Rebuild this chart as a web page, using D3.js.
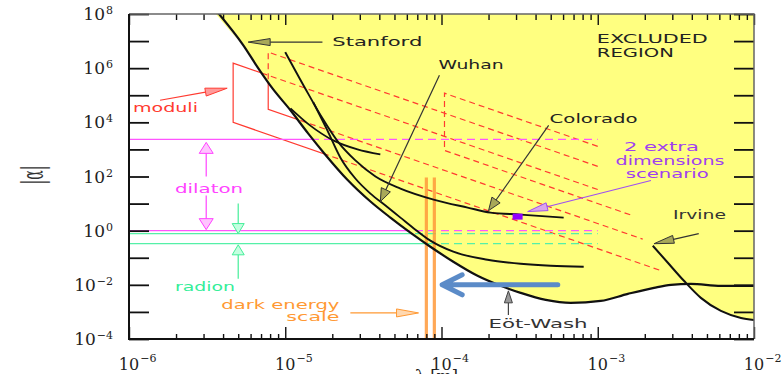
<!DOCTYPE html>
<html>
<head>
<meta charset="utf-8">
<title>Yukawa limits on |alpha| versus lambda</title>
<script src="https://cdn.jsdelivr.net/npm/d3@7"></script>
<style>
  html, body { margin: 0; padding: 0; background: #fff; }
  svg { display: block; }
  text { font-family: "DejaVu Sans", sans-serif; }
  text.num { font-family: "DejaVu Serif", serif; }
</style>
</head>
<body>
<svg id="chart" width="783" height="374"></svg>
<script>
// ---------- data: [lambda (m), |alpha|] ----------
// outer limit (Stanford at short range, Eot-Wash at long range)
const boundary = [
  [3.72e-6, 1.09e8], [5.38e-6, 7.11e6], [6.71e-6, 1.0e6], [8.26e-6, 1.82e5],
  [1.08e-5, 2.78e4], [1.40e-5, 3.92e3], [1.80e-5, 653], [2.49e-5, 77.4],
  [3.51e-5, 11.9], [4.71e-5, 3.03], [6.32e-5, 0.843], [8.49e-5, 0.255],
  [1.19e-4, 0.0711], [1.70e-4, 0.0215], [2.39e-4, 9.2e-3], [3.21e-4, 5.06e-3],
  [4.65e-4, 2.78e-3], [6.71e-4, 2.15e-3], [1.045e-3, 2.55e-3], [1.56e-3, 4.64e-3],
  [2.29e-3, 7.74e-3], [2.94e-3, 1.0e-2], [3.94e-3, 1.09e-2], [6.14e-3, 9.2e-3],
  [1.0e-2, 9.2e-3]
];
// edge of the shaded region where it runs just left of the Stanford line
const shadeEdgeTop = [[3.55e-6, 1.09e8], [4.9e-6, 1.2e7], [6.2e-6, 1.9e6]];
const irvine = [
  [2.25e-3, 0.278], [2.81e-3, 0.0653], [3.56e-3, 0.0141], [4.57e-3, 3.3e-3],
  [6.14e-3, 1.09e-3], [8.26e-3, 6.0e-4], [1.0e-2, 5.06e-4]
];
const wuhan = [
  [1.51e-5, 5.5e4], [1.86e-5, 5.06e3], [2.25e-5, 506], [2.81e-5, 84.3],
  [3.51e-5, 23.4], [4.38e-5, 8.43], [5.46e-5, 3.03], [6.81e-5, 1.09],
  [8.49e-5, 0.427], [1.19e-4, 0.167], [1.97e-4, 0.0843], [3.21e-4, 0.060],
  [5.0e-4, 0.0506], [8.13e-4, 0.0464]
];
const colorado = [
  [1.0e-5, 3.92e6], [1.34e-5, 1.82e5], [1.73e-5, 1.41e4], [2.19e-5, 1.82e3],
  [2.81e-5, 392], [3.78e-5, 100], [5.46e-5, 36], [8.9e-5, 14.1],
  [1.47e-4, 7.11], [2.06e-4, 4.64], [3.21e-4, 3.92], [6.05e-4, 3.03]
];
const stanford2003 = [
  [1.08e-5, 3.3e4], [1.44e-5, 7.74e3], [2.03e-5, 2.15e3], [2.9e-5, 1.0e3], [4.06e-5, 653]
];
// moduli bands: upper edge end, upper-left corner, lower-left corner, lower edge end
const moduliBand1 = [[1.0e-3, 33], [4.64e-6, 1.53e6], [4.64e-6, 1.0e4], [2.54e-3, 0.0334]];
const moduliBand2 = [[1.0e-3, 237], [7.78e-6, 3.92e6], [7.78e-6, 3.03e4], [1.94e-3, 0.487]];
const moduliBand3 = [[1.0e-3, 1299], [1.045e-4, 1.19e5], [1.045e-4, 918], [1.63e-3, 3.78]];
const dilatonLevels = [2.34e3, 1.0];
const radionLevels = [0.78, 0.33];
const levelSpan = [1.0e-6, 1.0e-3];
const darkEnergyLambdas = [8.0e-5, 9.0e-5];
const darkEnergyTop = 92;
const extraDimPoint = [3.07e-4, 3.3];
const xTickExponents = [-6, -5, -4, -3, -2];
const yTickExponents = [8, 6, 4, 2, 0, -2, -4];

// ---------- scales ----------
const svg = d3.select("#chart");
const x = d3.scaleLog().domain([1e-6, 1e-2]).range([129, 754]);
const y = d3.scaleLog().domain([1e-4, 1e8]).range([339, 14]);
const [xL, xR] = x.range();
const [yB, yT] = y.range();

const smooth = d3.line().x(d => x(d[0])).y(d => y(d[1])).curve(d3.curveMonotoneX);
const straight = d3.line().x(d => x(d[0])).y(d => y(d[1]));

// lower envelope of the outer limit and the Irvine limit
function logInterp(curve, l) {
  for (let i = 0; i < curve.length - 1; i++) {
    const [l0, a0] = curve[i], [l1, a1] = curve[i + 1];
    if (l >= l0 && l <= l1) {
      const t = (Math.log(l) - Math.log(l0)) / (Math.log(l1) - Math.log(l0));
      return Math.exp(Math.log(a0) + t * (Math.log(a1) - Math.log(a0)));
    }
  }
  return Infinity;
}
const gap = l => Math.log(logInterp(irvine, l)) - Math.log(logInterp(boundary, l));
const lams = [...new Set([...boundary, ...irvine].map(d => d[0]))].sort((a, b) => a - b);
const envelope = [];
lams.forEach((l, i) => {
  envelope.push([l, Math.min(logInterp(boundary, l), logInterp(irvine, l))]);
  const l2 = lams[i + 1];
  if (l2 !== undefined) {
    const g1 = gap(l), g2 = gap(l2);
    if (isFinite(g1) && isFinite(g2) && g1 * g2 < 0) {
      let lo = Math.log(l), hi = Math.log(l2);
      for (let k = 0; k < 40; k++) {
        const mid = (lo + hi) / 2;
        if (gap(Math.exp(mid)) * g1 > 0) lo = mid; else hi = mid;
      }
      const lc = Math.exp((lo + hi) / 2);
      envelope.push([lc, logInterp(boundary, lc)]);
    }
  }
});
const envPath = smooth(envelope);

// ---------- clip regions ----------
const defs = svg.append("defs");
defs.append("clipPath").attr("id", "plotArea")
  .append("rect").attr("x", xL).attr("y", yT).attr("width", xR - xL).attr("height", yB - yT);
defs.append("clipPath").attr("id", "excluded")
  .append("path").attr("d", envPath + `L${xR},${yT}Z`);
defs.append("clipPath").attr("id", "allowed")
  .append("path").attr("d", envPath + `L${xR},${yB}L${xL},${yB}L${xL},${yT}Z`);

const plot = svg.append("g").attr("clip-path", "url(#plotArea)");

// excluded region
const yellow = "#ffff80";
plot.append("path").attr("d", envPath + `L${xR},${yT}Z`).attr("fill", yellow);
plot.append("path")
  .attr("d", straight(shadeEdgeTop) + `L${x(boundary[2][0])},${y(boundary[2][1])}L${x(boundary[0][0])},${y(boundary[0][1])}Z`)
  .attr("fill", yellow);

// theory lines: solid where allowed, dashed inside the excluded region
function theoryLine(pts, color, width, dash) {
  plot.append("g").attr("clip-path", "url(#allowed)")
    .append("path").attr("d", straight(pts)).attr("fill", "none")
    .attr("stroke", color).attr("stroke-width", width);
  plot.append("g").attr("clip-path", "url(#excluded)")
    .append("path").attr("d", straight(pts)).attr("fill", "none")
    .attr("stroke", color).attr("stroke-width", width).attr("stroke-dasharray", dash);
}
[moduliBand1, moduliBand2, moduliBand3].forEach(b => theoryLine(b, "#ff3a30", 1.2, "6,4"));
dilatonLevels.forEach(a => theoryLine(levelSpan.map(l => [l, a]), "#ff55ff", 1.3, "8,5"));
radionLevels.forEach(a => theoryLine(levelSpan.map(l => [l, a]), "#55f0a8", 1.3, "8,5"));

// dark-energy length scale
darkEnergyLambdas.forEach(l => {
  plot.append("line")
    .attr("x1", x(l)).attr("x2", x(l)).attr("y1", y(darkEnergyTop)).attr("y2", yB)
    .attr("stroke", "#ff9a3a").attr("stroke-width", 3.2).attr("opacity", 0.85);
});

// experimental limits
[[boundary, 2.2], [irvine, 2], [wuhan, 1.9], [colorado, 1.9], [stanford2003, 1.8]].forEach(([c, w]) => {
  plot.append("path").attr("d", smooth(c)).attr("fill", "none")
    .attr("stroke", "#111").attr("stroke-width", w).attr("stroke-linejoin", "round");
});

// 2 extra dimensions point
plot.append("rect")
  .attr("x", x(extraDimPoint[0]) - 5).attr("y", y(extraDimPoint[1]) - 3)
  .attr("width", 10).attr("height", 6).attr("fill", "#9000ff");

// ---------- arrows ----------
const khaki = "#a8a858";
const arrows = [
  { from: [1.73e-5, 9.18e6], to: [5.79e-6, 9.18e6], len: 22, hw: 3.5, stroke: "#333", fill: khaki },
  { from: [9.7e-5, 5.5e5], to: [4.06e-5, 11.9], len: 13, hw: 5, stroke: "#333", fill: khaki },
  { from: [4.85e-4, 7.74e3], to: [2.0e-4, 5.5], len: 13, hw: 5, stroke: "#333", fill: khaki },
  { from: [4.43e-3, 0.774], to: [2.29e-3, 0.33], len: 20, hw: 4, stroke: "#333", fill: khaki },
  { from: [2.68e-4, 7.74e-4], to: [2.68e-4, 6.0e-3], len: 12, hw: 4, stroke: "#444", fill: "#999" },
  { from: [2.19e-3, 71], to: [3.56e-4, 5.06], len: 20, hw: 4, stroke: "#a050f0", fill: "#d9a6ec" },
  { from: [1.58e-6, 6.53e4], to: [4.25e-6, 1.82e5], len: 22, hw: 4, stroke: "#ff3a30", fill: "#ff9a9a" },
  { from: [3.12e-6, 100], to: [3.12e-6, 1.82e3], len: 11, hw: 7, stroke: "#ff44ff", fill: "#ffc4ff" },
  { from: [3.12e-6, 19.8], to: [3.12e-6, 1.09], len: 11, hw: 7, stroke: "#ff44ff", fill: "#ffc4ff" },
  { from: [5.0e-6, 10], to: [5.0e-6, 0.78], len: 10, hw: 6, stroke: "#44ee99", fill: "#c4ffe0" },
  { from: [5.0e-6, 0.0167], to: [5.0e-6, 0.3], len: 10, hw: 6, stroke: "#44ee99", fill: "#c4ffe0" },
  { from: [2.61e-5, 9.18e-4], to: [7.13e-5, 9.18e-4], len: 22, hw: 4, stroke: "#ff9933", fill: "#ffd8b0" }
];
arrows.forEach(a => {
  const fx = x(a.from[0]), fy = y(a.from[1]), tx = x(a.to[0]), ty = y(a.to[1]);
  const ang = Math.atan2(ty - fy, tx - fx);
  const bx = tx - a.len * Math.cos(ang), by = ty - a.len * Math.sin(ang);
  const nx = -Math.sin(ang) * a.hw, ny = Math.cos(ang) * a.hw;
  svg.append("line").attr("x1", fx).attr("y1", fy).attr("x2", bx).attr("y2", by)
    .attr("stroke", a.stroke).attr("stroke-width", 1.2);
  svg.append("path")
    .attr("d", `M${tx},${ty}L${bx + nx},${by + ny}L${bx - nx},${by - ny}Z`)
    .attr("fill", a.fill).attr("stroke", a.stroke).attr("stroke-width", 1);
});

// highlight arrow pointing toward shorter range
const blueArrow = { from: [5.55e-4, 1.0e-2], to: [1.01e-4, 1.0e-2] };
{
  const fx = x(blueArrow.from[0]), tx = x(blueArrow.to[0]), yy = y(blueArrow.from[1]);
  svg.append("path")
    .attr("d", `M${fx},${yy}L${tx + 2},${yy}M${tx + 20},${yy - 10}L${tx},${yy}L${tx + 20},${yy + 10}`)
    .attr("fill", "none").attr("stroke", "#5b8bc8").attr("stroke-width", 5)
    .attr("stroke-linecap", "round").attr("stroke-linejoin", "round");
}

// ---------- labels ----------
const labels = [
  { text: "Stanford", at: [2.0e-5, 6.53e6], w: 90, color: "#222" },
  { text: "Wuhan", at: [9.57e-5, 9.18e5], w: 65, color: "#222" },
  { text: "EXCLUDED", at: [9.87e-4, 8.43e6], w: 111, color: "#222" },
  { text: "REGION", at: [9.87e-4, 2.55e6], w: 77, color: "#222" },
  { text: "Colorado", at: [4.92e-4, 9.18e3], w: 88, color: "#222" },
  { text: "2 extra", at: [1.47e-3, 843], w: 75, color: "#a040f0", size: 12 },
  { text: "dimensions", at: [1.30e-3, 255], w: 109, color: "#a040f0", size: 12 },
  { text: "scenario", at: [1.51e-3, 91.8], w: 83, color: "#a040f0", size: 12 },
  { text: "Irvine", at: [3.03e-3, 2.78], w: 53, color: "#333" },
  { text: "Eöt-Wash", at: [2.0e-4, 2.55e-4], w: 99, color: "#333" },
  { text: "moduli", at: [1.06e-6, 2.34e4], w: 65, color: "#ff3a30" },
  { text: "dilaton", at: [1.97e-6, 25.5], w: 68, color: "#ff44ff" },
  { text: "radion", at: [1.97e-6, 6.0e-3], w: 60, color: "#33ee99" },
  { text: "dark energy", at: [2.22e-5, 1.29e-3], w: 118, color: "#ff9933", anchor: "end" },
  { text: "scale", at: [2.22e-5, 4.64e-4], w: 53, color: "#ff9933", anchor: "end" }
];
labels.forEach(l => {
  svg.append("text")
    .attr("x", x(l.at[0])).attr("y", y(l.at[1]))
    .attr("text-anchor", l.anchor || "start")
    .attr("textLength", l.w).attr("lengthAdjust", "spacingAndGlyphs")
    .style("font-size", (l.size || 13) + "px")
    .attr("fill", l.color).text(l.text);
});

// ---------- axes ----------
const majorX = xTickExponents.map(e => Math.pow(10, e));
const minorX = [];
xTickExponents.slice(0, -1).forEach(e => { for (let m = 2; m <= 9; m++) minorX.push(m * Math.pow(10, e)); });
const decadesY = d3.range(-4, 9).map(e => Math.pow(10, e));

function drawAxis(axis, tx, ty) {
  const g = svg.append("g").attr("transform", `translate(${tx},${ty})`).call(axis);
  g.select(".domain").remove();
  g.selectAll("line").attr("stroke", "#111").attr("stroke-width", 1.4);
  return g;
}
drawAxis(d3.axisBottom(x).tickValues(minorX).tickSize(-5).tickSizeOuter(0).tickFormat(""), 0, yB);
drawAxis(d3.axisBottom(x).tickValues(majorX).tickSize(-12).tickSizeOuter(0).tickFormat(""), 0, yB);
drawAxis(d3.axisTop(x).tickValues(minorX).tickSize(-6).tickSizeOuter(0).tickFormat(""), 0, yT);
drawAxis(d3.axisTop(x).tickValues(majorX).tickSize(-11).tickSizeOuter(0).tickFormat(""), 0, yT);
drawAxis(d3.axisLeft(y).tickValues(decadesY).tickSize(-20).tickSizeOuter(0).tickFormat(""), xL, 0)
  .selectAll("line").attr("stroke-width", 1.8);
drawAxis(d3.axisRight(y).tickValues(decadesY).tickSize(-20).tickSizeOuter(0).tickFormat(""), xR, 0)
  .selectAll("line").attr("stroke-width", 1.8);

// frame
svg.append("path").attr("d", `M${xL},${yT}L${xR},${yT}L${xR},${yB}`)
  .attr("fill", "none").attr("stroke", "#666").attr("stroke-width", 1.5);
svg.append("path").attr("d", `M${xL},${yT}L${xL},${yB}L${xR},${yB}`)
  .attr("fill", "none").attr("stroke", "#111").attr("stroke-width", 2);

const sup = e => (e < 0 ? "\u2212" + (-e) : String(e));

// x tick labels
xTickExponents.forEach(e => {
  const cx = x(Math.pow(10, e));
  const t = svg.append("text").attr("class", "num").attr("x", cx).attr("y", 370)
    .attr("text-anchor", "middle").style("font-size", "16px").attr("fill", "#222").text("10");
  const w = t.node().getComputedTextLength();
  svg.append("text").attr("class", "num").attr("x", cx + w / 2 + 1).attr("y", 362)
    .style("font-size", "11px").attr("fill", "#222").text(sup(e));
});

// y tick labels
yTickExponents.forEach(e => {
  const cy = y(Math.pow(10, e));
  const s = svg.append("text").attr("class", "num").attr("x", xL - 16).attr("y", cy)
    .attr("text-anchor", "end").style("font-size", "11px").attr("fill", "#222").text(sup(e));
  const sw = s.node().getComputedTextLength();
  svg.append("text").attr("class", "num").attr("x", xL - 16 - sw - 1).attr("y", cy + 6)
    .attr("text-anchor", "end").style("font-size", "17px").attr("fill", "#222").text("10");
});

// axis titles
svg.append("text").attr("class", "num")
  .attr("transform", "translate(43,175) rotate(-90) scale(1,2.1)")
  .attr("text-anchor", "middle").style("font-size", "14px").attr("fill", "#333").text("|α|");
svg.append("text").attr("class", "num").attr("x", 415).attr("y", 382)
  .style("font-size", "16px").attr("fill", "#222").text("λ [m]");
</script>
</body>
</html>
